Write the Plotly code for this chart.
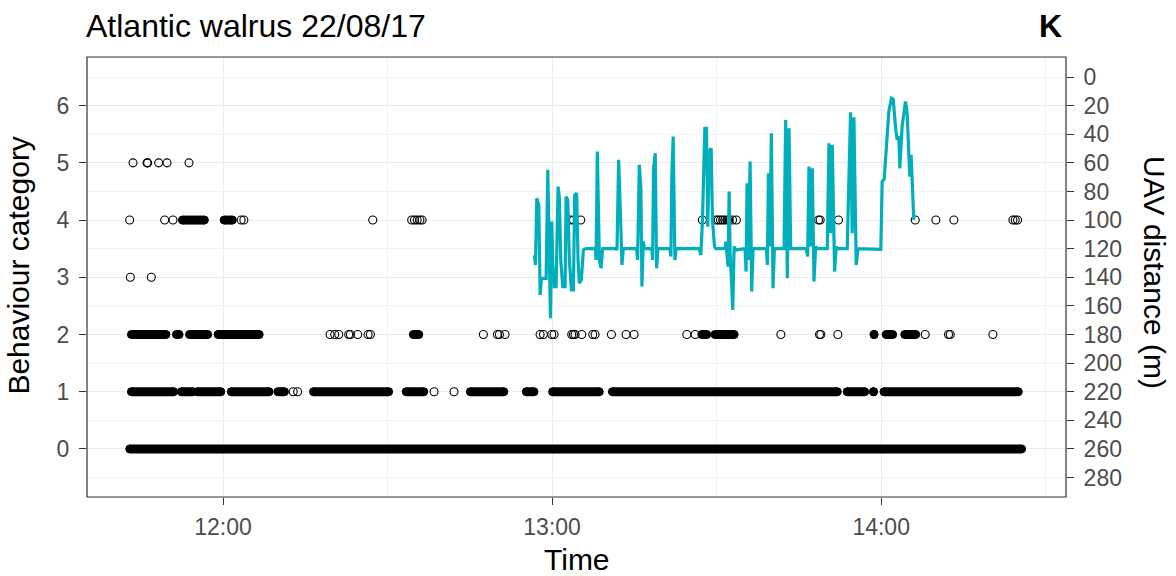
import pandas as pd
import plotly.graph_objects as go

# ---------------- data (times in minutes after midnight, 22/08/2017) ----------------
# UAV distance (m) trace
uav_time = [776.78, 776.97, 777.21, 777.57, 777.82, 778.06, 778.91, 779.21, 779.51, 779.70,
            779.94, 780.12, 780.42, 780.73, 781.09, 781.33, 781.58, 781.94, 782.37, 782.55,
            782.85, 783.15, 783.52, 783.88, 784.13, 784.49, 784.73, 784.97, 785.34, 785.70,
            786.19, 787.89, 788.01, 788.25, 788.62, 788.92, 789.22, 791.65, 791.83, 792.13,
            792.44, 792.74, 792.98, 795.41, 795.59, 795.90, 796.20, 796.38, 796.62, 796.87,
            798.20, 798.32, 798.50, 798.81, 799.05, 799.29, 801.48, 801.66, 801.84, 802.08,
            802.39, 802.63, 806.82, 807.12, 807.42, 807.85, 808.15, 808.39, 808.64, 809.00,
            809.24, 809.61, 809.85, 811.55, 811.67, 811.85, 812.09, 812.28, 812.46, 812.70,
            812.94, 813.19, 813.49, 815.19, 815.37, 815.55, 815.80, 816.10, 816.40, 816.64,
            819.07, 819.25, 819.44, 819.68, 819.98, 820.28, 820.53, 822.29, 822.59, 822.89,
            823.20, 823.50, 826.35, 826.59, 826.84, 827.14, 827.44, 827.75, 828.05, 828.35,
            830.17, 830.48, 830.78, 831.08, 831.51, 831.81, 831.99, 833.81, 834.12, 834.42,
            834.72, 835.03, 835.45, 835.76, 839.94, 840.18, 840.55, 840.91, 841.40, 841.88,
            842.19, 842.61, 842.91, 843.22, 843.40, 843.82, 844.13, 844.43, 844.73, 845.04,
            845.22, 845.46, 845.64, 845.95]
uav_dist = [124.4, 131.4, 84.7, 89.4, 152.3, 140.7, 140.7, 64.9, 127.9, 168.7,
            101.1, 130.2, 146.5, 146.5, 76.6, 84.7, 127.9, 146.5, 146.5, 83.6,
            85.9, 127.9, 148.8, 148.8, 82.4, 81.2, 127.9, 144.2, 141.8, 120.9,
            120.0, 120.0, 127.9, 52.1, 127.9, 133.7, 120.0, 120.0, 120.9, 57.9,
            92.9, 131.4, 120.0, 120.0, 127.9, 61.4, 78.9, 146.5, 115.0, 120.0,
            120.0, 127.9, 63.8, 53.3, 133.7, 120.0, 120.0, 125.5, 68.4, 41.6,
            127.9, 120.0, 120.0, 124.4, 99.9, 35.8, 35.8, 104.6, 52.1, 49.8,
            99.9, 118.5, 120.0, 120.0, 115.0, 123.2, 132.5, 80.1, 123.2, 141.8,
            162.8, 118.5, 120.9, 120.0, 136.0, 74.2, 127.9, 59.1, 150.0, 120.0,
            120.0, 131.4, 67.3, 118.5, 39.3, 147.7, 120.0, 120.0, 30.0, 140.7,
            35.8, 120.0, 120.0, 125.5, 62.6, 118.5, 63.8, 143.0, 118.5, 120.0,
            120.0, 46.3, 109.2, 47.4, 136.0, 118.5, 120.0, 120.0, 73.1, 24.6,
            109.2, 28.1, 131.4, 120.0, 120.4, 73.1, 71.4, 48.6, 24.1, 14.8,
            15.5, 34.6, 43.9, 41.6, 63.8, 34.6, 23.0, 17.1, 25.3, 53.3,
            69.6, 54.4, 69.6, 99.9]

# Behaviour observations: isolated points (time) per category
pts_cat = [1, 1, 1, 1,
           2, 2, 2, 2, 2, 2, 2, 2, 2, 2, 2, 2, 2, 2, 2, 2, 2, 2, 2, 2, 2, 2, 2, 2, 2, 2,
           2, 2, 2, 2, 2, 2, 2, 2, 2,
           3, 3,
           4, 4, 4, 4, 4, 4, 4, 4, 4, 4, 4, 4, 4, 4, 4, 4, 4, 4, 4, 4, 4, 4, 4, 4, 4, 4,
           4, 4, 4, 4, 4, 4, 4,
           5, 5, 5, 5, 5, 5]
pts_time = [732.8, 733.6, 758.48, 762.12,
            739.52, 740.37, 741.10, 742.92, 743.23, 744.56, 746.45, 746.87, 767.47, 770.03,
            770.39, 771.43, 777.81, 778.42, 779.94, 780.36, 783.58, 783.89, 784.19, 785.41,
            787.41, 787.84, 790.82, 793.49, 794.95, 804.56, 806.08,
            821.71, 828.76, 829.00, 832.10, 848.03, 852.28, 852.59, 860.37,
            703.10, 706.93,
            702.98, 709.36, 710.88, 723.3, 723.8, 747.30, 754.4, 754.9, 755.4, 755.9,
            756.3, 783.28, 783.89, 785.22, 807.4, 809.9, 810.3, 810.7, 811.1, 811.5,
            812.0, 812.3, 812.9, 813.6,
            828.58, 828.88, 832.22, 846.21, 849.97, 853.26, 864.02, 864.44, 864.87,
            703.59, 706.14, 706.26, 708.27, 709.79, 713.80]

# Behaviour observations: dense, continuous runs (start, end) per category
run_cat = [0,
           1, 1, 1, 1, 1, 1, 1, 1, 1, 1, 1, 1, 1, 1,
           2, 2, 2, 2, 2, 2, 2, 2, 2, 2,
           4, 4]
run_start = [703.0,
             703.3, 712.4, 715.3, 721.5, 730.0, 736.5, 753.4, 765.1, 775.3, 780.1, 791.0, 833.8, 840.5, 838.6,
             703.3, 711.5, 713.9, 719.1, 754.7, 807.3, 809.7, 840.9, 844.3, 838.7,
             712.6, 720.2]
run_end = [865.6,
           711.0, 714.5, 719.6, 728.4, 731.2, 750.2, 756.6, 771.2, 776.7, 788.6, 832.0, 837.0, 865.0, 838.6,
           709.6, 712.0, 717.2, 726.6, 755.7, 808.2, 813.2, 842.1, 846.3, 838.7,
           716.6, 721.7]

x_range = [695.2, 873.7]
cat_range = [-0.84, 6.85]
dist_ticks = list(range(0, 281, 20))
title_text = "Atlantic walrus 22/08/17"
panel_tag = "K"

# ---------------- helpers ----------------
BASE = pd.Timestamp("2017-08-22")


def clock(m):
    return BASE + pd.Timedelta(minutes=m)


def cat_to_dist(c):
    return (6.5 - c) * 40.0


FAM = "Liberation Sans, Arial, sans-serif"
TICK_FONT = dict(family=FAM, size=23, color="#4D4D4D")
TITLE_FONT = dict(family=FAM, size=30, color="black")

fig = go.Figure()

# dense runs drawn as thick bands of overlapping circles
rx, ry = [], []
ex, ey = [], []
for c, s, e in zip(run_cat, run_start, run_end):
    rx += [clock(s), clock(e), None]
    ry += [c, c, None]
    ex += [clock(s), clock(e)]
    ey += [c, c]
fig.add_trace(go.Scatter(x=rx, y=ry, mode="lines", line=dict(color="black", width=9),
                         hoverinfo="skip", showlegend=False))
fig.add_trace(go.Scatter(x=ex, y=ey, mode="markers",
                         marker=dict(symbol="circle", size=8, color="black",
                                     line=dict(color="black", width=1)),
                         hoverinfo="skip", showlegend=False))

# isolated observations
fig.add_trace(go.Scatter(x=[clock(t) for t in pts_time], y=pts_cat, mode="markers",
                         marker=dict(symbol="circle-open", size=8, color="black",
                                     line=dict(color="black", width=1.1)),
                         showlegend=False))

# UAV distance line on secondary (reversed) axis
fig.add_trace(go.Scatter(x=[clock(t) for t in uav_time], y=uav_dist, mode="lines",
                         line=dict(color="#00AFBB", width=3.2), yaxis="y2",
                         showlegend=False))

fig.update_layout(
    width=1176, height=576,
    margin=dict(l=87, r=110, t=57, b=79, autoexpand=False),
    paper_bgcolor="white", plot_bgcolor="white",
    xaxis=dict(
        range=[clock(x_range[0]), clock(x_range[1])],
        type="date",
        tick0=clock(720), dtick=3600000, tickformat="%H:%M",
        ticks="outside", ticklen=7, tickcolor="#333333", tickwidth=1.1,
        tickfont=TICK_FONT, ticklabelstandoff=2,
        showgrid=True, gridcolor="#EBEBEB", gridwidth=1.2,
        minor=dict(dtick=1800000, tick0=clock(690), showgrid=True,
                   gridcolor="#F2F2F2", gridwidth=0.7, ticks=""),
        zeroline=False, showline=False,
    ),
    yaxis=dict(
        range=cat_range, tickmode="array", tickvals=[0, 1, 2, 3, 4, 5, 6],
        ticks="outside", ticklen=7, tickcolor="#333333", tickwidth=1.1,
        tickfont=TICK_FONT, ticklabelstandoff=5,
        showgrid=True, gridcolor="#EBEBEB", gridwidth=1.2,
        minor=dict(tickmode="array", tickvals=[-0.5, 0.5, 1.5, 2.5, 3.5, 4.5, 5.5, 6.5],
                   showgrid=True, gridcolor="#F2F2F2", gridwidth=0.7, ticks=""),
        zeroline=False, showline=False,
    ),
    yaxis2=dict(
        range=[cat_to_dist(cat_range[0]), cat_to_dist(cat_range[1])],
        overlaying="y", side="right",
        tickmode="array", tickvals=dist_ticks,
        ticks="outside", ticklen=7, tickcolor="#333333", tickwidth=1.1,
        tickfont=TICK_FONT, ticklabelstandoff=5,
        showgrid=False, zeroline=False, showline=False,
    ),
    shapes=[dict(type="rect", xref="paper", yref="paper", x0=0, x1=1, y0=0, y1=1,
                 line=dict(color="#333333", width=1.2), layer="above")],
    annotations=[
        dict(text=title_text, xref="paper", yref="paper", x=0, y=1,
             xanchor="left", yanchor="bottom", xshift=-3, yshift=11, showarrow=False,
             font=dict(family=FAM, size=32, color="black")),
        dict(text="<b>" + panel_tag + "</b>", xref="paper", yref="paper", x=1, y=1,
             xanchor="right", yanchor="bottom", xshift=-2, yshift=11, showarrow=False,
             font=dict(family=FAM, size=32, color="black")),
        dict(text="Time", xref="paper", yref="paper", x=0.5, y=0,
             xanchor="center", yanchor="top", yshift=-44, showarrow=False, font=TITLE_FONT),
        dict(text="Behaviour category", xref="paper", yref="paper", x=0, y=0.527,
             xanchor="right", yanchor="middle", xshift=-50, textangle=-90,
             showarrow=False, font=TITLE_FONT),
        dict(text="UAV distance (m)", xref="paper", yref="paper", x=1, y=0.51,
             xanchor="left", yanchor="middle", xshift=70, textangle=90,
             showarrow=False, font=TITLE_FONT),
    ],
)

fig.write_html("out.html")
